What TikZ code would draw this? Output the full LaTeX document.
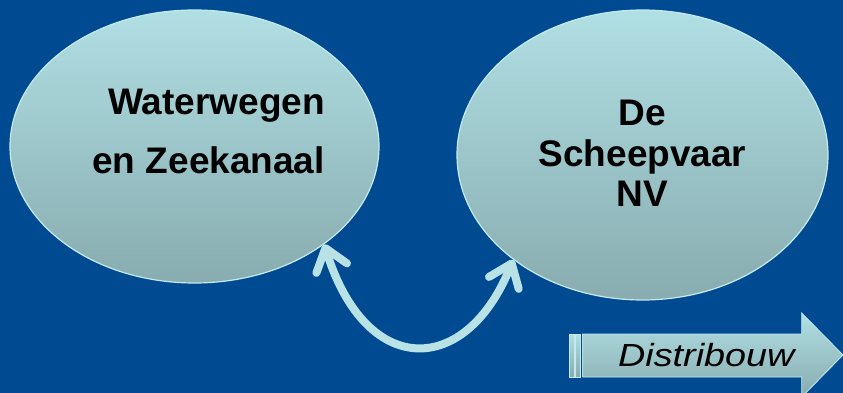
\documentclass[tikz,border=0pt]{standalone}
\usepackage{fontspec}
\setmainfont{Liberation Sans}
\usetikzlibrary{shapes.geometric,arrows.meta}
\definecolor{bgblue}{RGB}{0,74,145}
\definecolor{ltop}{RGB}{176,223,228}
\definecolor{lbot}{RGB}{136,172,175}
\definecolor{lborder}{RGB}{196,234,238}
\definecolor{conncol}{RGB}{185,226,230}
\tikzset{
  blob/.style={ellipse, inner sep=0pt, top color=ltop, bottom color=lbot, draw=lborder, line width=1.2pt},
  bigtxt/.style={font=\fontsize{37}{41}\selectfont\bfseries, inner sep=0pt, text=black},
  conn/.style={draw=conncol, line width=8pt, {Straight Barb[length=21pt,width=32pt,round]}-{Straight Barb[length=21pt,width=32pt,round]}},
  arrbody/.style={top color=ltop, bottom color=lbot, draw=lborder, line width=0.8pt}
}
\begin{document}
\begin{tikzpicture}[x=1pt,y=-1pt]
\useasboundingbox (0,0) rectangle (843,393);
\clip (0,0) rectangle (843,393);
\fill[bgblue] (0,0) rectangle (843,393);
% ellipses
\node[blob, minimum width=369pt, minimum height=273pt] (L) at (194.5,146.5) {};
\node[blob, minimum width=371pt, minimum height=290pt] (R) at (642.5,155) {};
% texts
\node[bigtxt, anchor=base east] (l1) at (325,115) {Waterwegen};
\node[bigtxt, anchor=base east] (l2) at (325,173) {en Zeekanaal};
\node[bigtxt, anchor=base] (r1) at (642.5,125) {De};
\node[bigtxt, anchor=base] (r2) at (642.5,166.7) {Scheepvaar};
\node[bigtxt, anchor=base] (r3) at (642.5,206.7) {NV};
% curved double arrow
\draw[conn] (L.-37.5) .. controls +(42,135) and +(-47,117) .. (R.-141.7);
% Distribouw arrow
\path[arrbody] (569.3,334) rectangle (574,377);
\path[arrbody] (575.7,334) rectangle (580.7,377);
\path[arrbody] (582.7,334) -- (801.7,334) -- (801.7,313) -- (843,355) -- (801.7,397) -- (801.7,377) -- (582.7,377) -- cycle;
\node[font=\fontsize{32}{36}\selectfont\itshape, inner sep=0pt, anchor=base west, text=black] (d) at (618,366) {\scalebox{1.18}[1]{Distribouw}};
\end{tikzpicture}
\end{document}
